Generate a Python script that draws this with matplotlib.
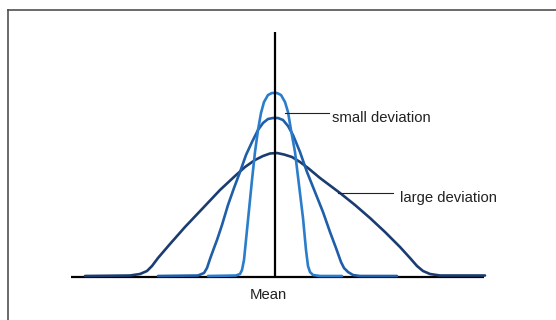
import matplotlib
matplotlib.use("Agg")
import matplotlib.pyplot as plt
from matplotlib.lines import Line2D

# curves: x = offset from the mean, y = height above the baseline
# (both in the picture's own pixel scale)
small_x = [-67, -39, -35, -33, -31, -29, -26, -23, -20, -17, -14, -11, -7, -3, 2, 6, 10,
           13, 16, 20, 24, 28, 31, 33, 35, 38, 45, 67]
small_y = [1, 1.5, 3, 7, 17, 37, 67, 97, 125, 147, 164, 175, 182, 184, 184, 182, 175,
           165, 147, 125, 92, 59, 27, 11, 5, 2, 1, 1]

medium_x = [-117, -77, -71, -68, -65, -61, -58, -53, -47, -41, -35, -29, -23, -17, -12, -7,
            -2, 3, 8, 13, 18, 25, 32, 40, 48, 55, 61, 66, 69, 73, 78, 85, 122]
medium_y = [1, 1.5, 4, 9, 18, 29, 37, 52, 72, 89, 105, 122, 135, 147, 154, 158,
            159, 159, 157, 151, 142, 125, 105, 85, 65, 45, 29, 15, 9, 5, 2, 1, 1]

large_x = [-190, -145, -135, -128, -123, -117, -105, -90, -72, -55, -40, -30, -20, -12, -5,
           2, 9, 17, 25, 33, 45, 65, 80, 95, 110, 125, 135, 142, 148, 155, 165, 210]
large_y = [1, 1.5, 3, 6, 11, 19, 33, 50, 69, 87, 101, 110, 117, 121, 123.5,
           124, 122.5, 120, 115, 109, 99, 84, 72, 59, 45, 30, 19, 11, 6, 3, 1.5, 1.5]

curve_names = ['small', 'medium', 'large']
curve_colors = ['#2b7dcb', '#1f5ea8', '#1b3c70']

fig = plt.figure(figsize=(5.56, 3.2), dpi=100)
ax = fig.add_axes([0, 0, 1, 1])
ax.set_xlim(-275, 281)
ax.set_ylim(-43, 277)
ax.axis('off')

# outer frame (only left and top edges are visible)
fig.add_artist(Line2D([8 / 556, 8 / 556], [0, 1 - 10 / 320], color='#505050', lw=1.2,
                      transform=fig.transFigure))
fig.add_artist(Line2D([8 / 556, 1], [1 - 10 / 320, 1 - 10 / 320], color='#505050', lw=1.2,
                      transform=fig.transFigure))

# baseline and mean line
ax.plot([-204, 209], [0, 0], color='black', lw=1.6, solid_capstyle='butt', zorder=1)
ax.plot([0, 0], [0, 245], color='black', lw=1.6, solid_capstyle='butt', zorder=4)

for xs, ys, c in zip([large_x, medium_x, small_x], [large_y, medium_y, small_y],
                     curve_colors[::-1]):
    ax.plot(xs, ys, color=c, lw=1.9, solid_joinstyle='round', solid_capstyle='round', zorder=3)

# leader lines and labels
ax.plot([10, 54], [164, 164], color='#222222', lw=0.8, zorder=5)
ax.plot([63, 118], [84, 84], color='#222222', lw=0.8, zorder=5)

font = ['Liberation Sans', 'DejaVu Sans']
ax.text(57, 159, 'small deviation', fontsize=10.7, family=font, color='#222222',
        ha='left', va='center')
ax.text(125, 79, 'large deviation', fontsize=10.7, family=font, color='#222222',
        ha='left', va='center')
ax.text(-6.5, -18, 'Mean', fontsize=10.7, family=font, color='#222222',
        ha='center', va='center')

fig.savefig('out.png', dpi=100)
